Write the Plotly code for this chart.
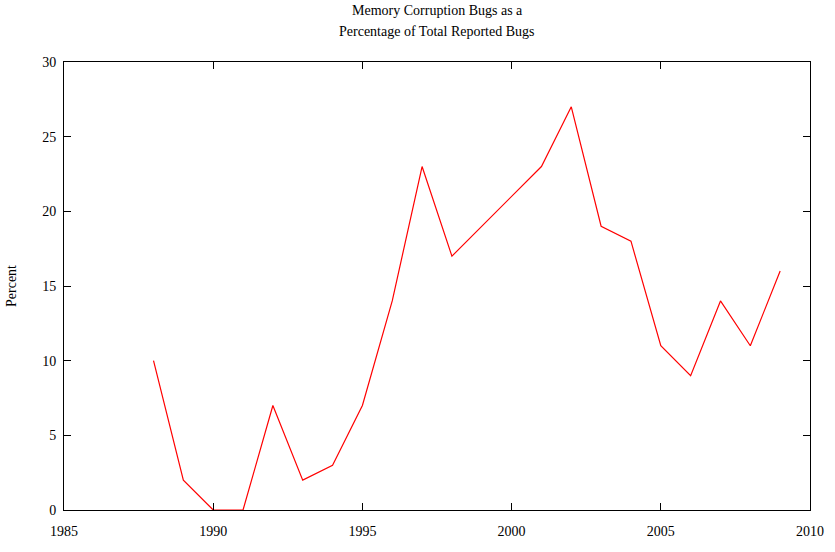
import plotly.graph_objects as go

years = [1988, 1989, 1990, 1991, 1992, 1993, 1994, 1995, 1996, 1997, 1998,
         1999, 2000, 2001, 2002, 2003, 2004, 2005, 2006, 2007, 2008, 2009]
percent = [10, 2, 0, 0, 7, 2, 3, 7, 14, 23, 17,
           19, 21, 23, 27, 19, 18, 11, 9, 14, 11, 16]
x_ticks = [1985, 1990, 1995, 2000, 2005, 2010]
y_ticks = [0, 5, 10, 15, 20, 25, 30]
title_lines = ["Memory Corruption Bugs as a", "Percentage of Total Reported Bugs"]

font_family = "Liberation Serif, Times New Roman, serif"

fig = go.Figure()
fig.add_trace(go.Scatter(x=years, y=percent, mode="lines",
                         line=dict(color="#ff0000", width=1.2), showlegend=False))

axis_common = dict(showline=True, linecolor="black", linewidth=1, mirror="ticks",
                   ticks="inside", ticklen=7, tickwidth=1, tickcolor="black",
                   showgrid=False, zeroline=False, automargin=False,
                   layer="above traces",
                   tickfont=dict(family=font_family, size=14, color="black"))

fig.update_layout(
    width=835, height=552,
    margin=dict(l=64, r=25, t=62, b=42),
    paper_bgcolor="white", plot_bgcolor="white",
    font=dict(family=font_family, size=14, color="black"),
    xaxis=dict(range=[1985, 2010], tickvals=x_ticks, ticklabelstandoff=8, **axis_common),
    yaxis=dict(range=[0, 30], tickvals=y_ticks, ticklabelstandoff=4,
               title=dict(text="Percent", font=dict(family=font_family, size=14), standoff=22),
               **axis_common),
)
for i, t in enumerate(title_lines):
    fig.add_annotation(text=t, xref="paper", yref="paper", x=0.5, y=1,
                       yshift=52 - 21 * i, showarrow=False,
                       font=dict(family=font_family, size=14, color="black"),
                       xanchor="center", yanchor="middle")

fig.write_html("out.html",
               config={"displayModeBar": False},
               post_script="document.body.style.margin='0';document.body.style.overflow='hidden';")
